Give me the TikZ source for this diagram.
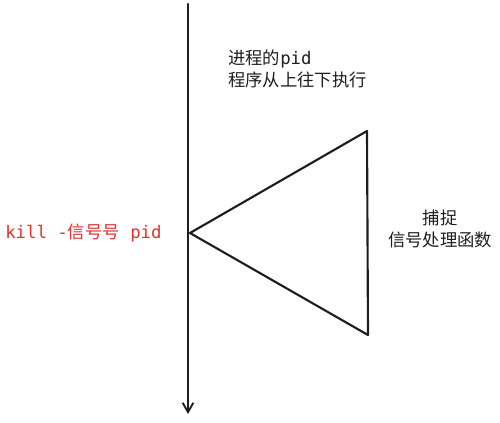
\documentclass[tikz,border=0pt]{standalone}
\usepackage{fontspec}
\setmonofont{DejaVu Sans Mono}
\newfontfamily\cjk{Noto Sans CJK SC}
\usetikzlibrary{arrows.meta}
\definecolor{ink}{HTML}{1E1E1E}
\definecolor{redtxt}{HTML}{E03131}
\tikzset{
  stroke/.style={draw=ink, line width=1.6pt, line cap=round, line join=round},
  lbl/.style={font=\fontsize{13pt}{16.5pt}\selectfont, text=ink, inner sep=0pt, align=left},
}
\newcommand{\mt}[1]{{\ttfamily #1}}
\begin{document}
\begin{tikzpicture}[x=0.75pt,y=-0.75pt]
\useasboundingbox (0,0) rectangle (500,422);
\coordinate (top) at (188,4);
\coordinate (bot) at (188,414);
\draw[stroke, -{Straight Barb[length=7pt,width=8pt,line width=1.4pt]}] (top) -- (bot);
\coordinate (A) at (190,233);
\coordinate (B) at (367,131);
\coordinate (C) at (368,335);
\draw[stroke] (A) -- (B) -- (C) -- cycle;
\node[lbl, anchor=west] (t1) at (228,69) {\cjk 进程的\mt{pid}\\\cjk 程序从上往下执行};
\node[lbl, anchor=west, text=redtxt] (t2) at (5,233) {\mt{kill -}\cjk 信号号\mt{ pid}};
\node[lbl, align=center] (t3) at (440,229) {\cjk 捕捉\\\cjk 信号处理函数};
\end{tikzpicture}
\end{document}
